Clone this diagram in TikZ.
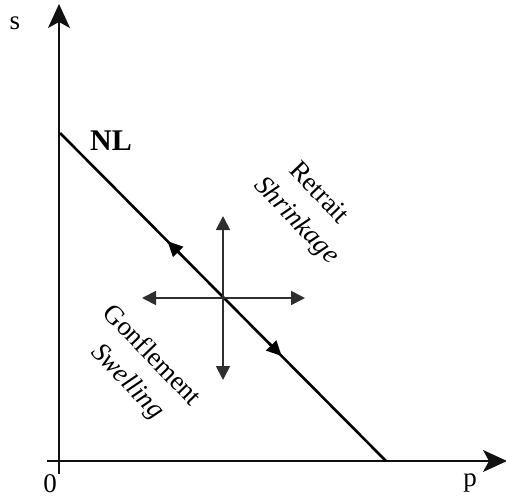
\documentclass[tikz,border=0pt]{standalone}
\usepackage{fontspec}
\setmainfont{Liberation Serif}
\usepackage{xcolor}
\usetikzlibrary{arrows.meta,calc}
\definecolor{AxisLine}{HTML}{111111}
\definecolor{CrossLine}{HTML}{2E2E2E}
\tikzset{
  axis/.style={AxisLine,line width=1.3pt,-{Stealth[length=24pt,width=22pt,inset=6pt]}},
  nlline/.style={black,line width=2.6pt},
  nlarrow/.style={black,line width=2.6pt,-{Triangle[length=15pt,width=14pt]}},
  crossarrow/.style={CrossLine,line width=1.8pt,-{Triangle[length=14pt,width=14pt]}},
  labeltext/.style={font=\fontsize{27}{29}\selectfont,inner sep=1pt}
}
\begin{document}
\begin{tikzpicture}[x=1pt,y=1pt]
  \useasboundingbox (0,0) rectangle (506,499);

  % axes
  \coordinate (sLow) at (59,25);
  \coordinate (sTop) at (59,495);
  \coordinate (pLow) at (47,38);
  \coordinate (pTop) at (507,38);
  \draw[axis] (sLow) -- (sTop);
  \draw[axis] (pLow) -- (pTop);
  \node[labeltext] (sLabel) at (15,476) {s};
  \node[labeltext] (zeroLabel) at (50,15) {0};
  \node[labeltext] (pLabel) at (470,16) {p};

  % normal line
  \coordinate (NLa) at (60,366);
  \coordinate (NLb) at (386,38);
  \draw[nlline] (NLa) -- (NLb);
  \draw[nlarrow] ($(NLa)!0.37!(NLb)$) -- ($(NLa)!0.33!(NLb)$);
  \draw[nlarrow] ($(NLa)!0.64!(NLb)$) -- ($(NLa)!0.68!(NLb)$);
  \node[font=\bfseries\fontsize{30}{32}\selectfont] (nlLabel) at (111,358) {NL};

  % cross of the stress path
  \coordinate (C) at (223,201);
  \coordinate (cLeft) at (142,201);
  \coordinate (cRight) at (305,201);
  \coordinate (cUp) at (223,283);
  \coordinate (cDown) at (223,119);
  \draw[crossarrow] (C) -- (cLeft);
  \draw[crossarrow] (C) -- (cRight);
  \draw[crossarrow] (C) -- (cUp);
  \draw[crossarrow] (C) -- (cDown);

  % zones
  \node[labeltext,rotate=-46] (retrait) at (320,307) {Retrait};
  \node[labeltext,rotate=-46] (shrink) at (296,278) {\itshape Shrinkage};
  \node[labeltext,rotate=-46] (gonfl) at (153,145) {Gonflement};
  \node[labeltext,rotate=-46] (swell) at (127,117) {\itshape Swelling};
\end{tikzpicture}
\end{document}
